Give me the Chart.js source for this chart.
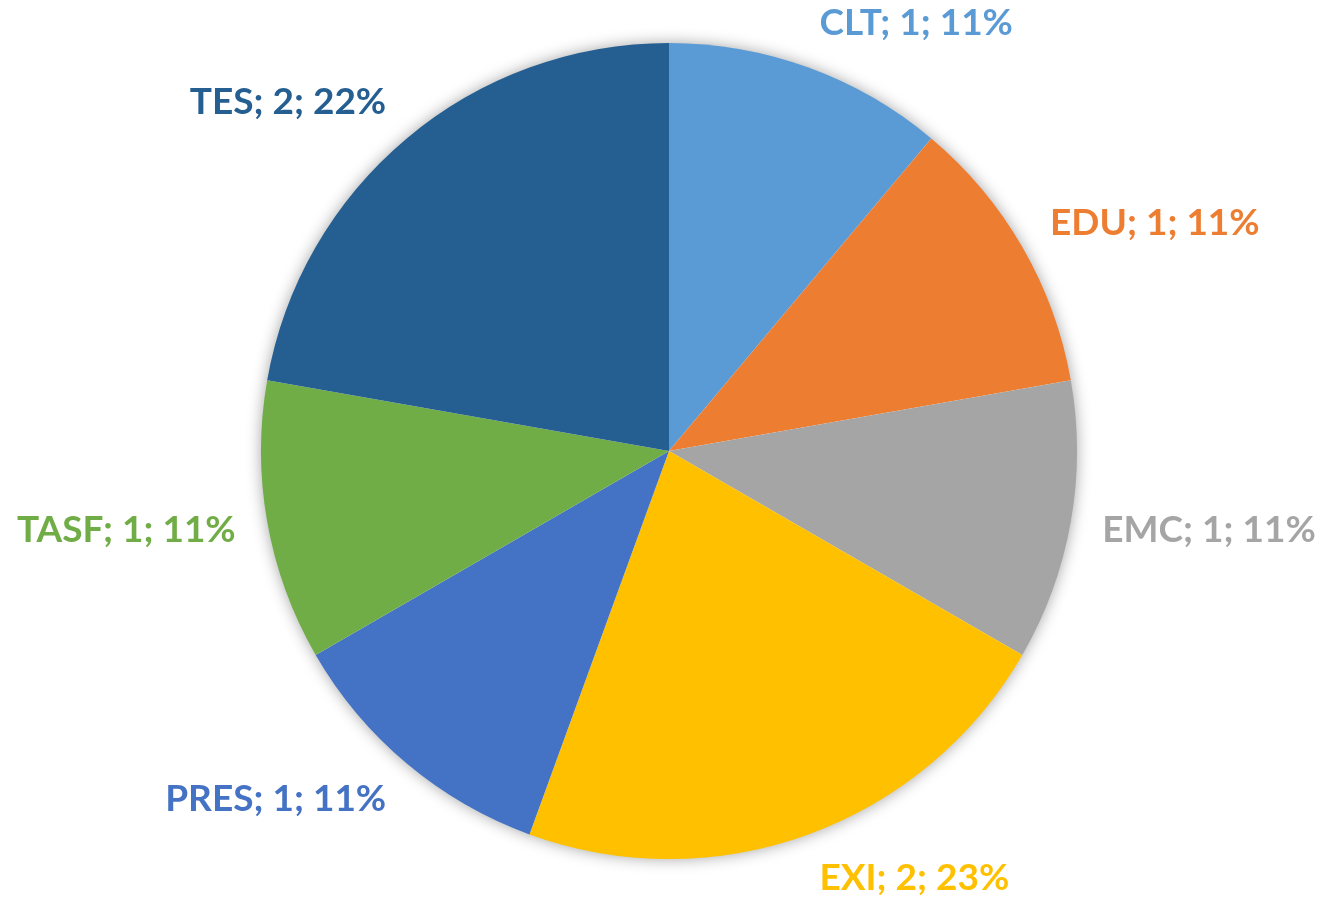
<!DOCTYPE html>
<html lang="en">
<head>
  <meta charset="UTF-8" />
  <title>Pie</title>
  <script src="https://cdn.jsdelivr.net/npm/chart.js"></script>
  <style>
    html, body { margin: 0; padding: 0; background: #fff; }
    .chart-container { position: relative; width: 1327px; height: 904px; }
  </style>
</head>
<body>
<div class="chart-container">
  <canvas id="pieChart"></canvas>
</div>
<script>
  // data
  const categories = ['CLT', 'EDU', 'EMC', 'EXI', 'PRES', 'TASF', 'TES'];
  const counts = [1, 1, 1, 2, 1, 1, 2];
  const percents = ['11%', '11%', '11%', '23%', '11%', '11%', '22%'];
  const colors = ['#5B9BD5', '#ED7D31', '#A5A5A5', '#FFC000', '#4472C4', '#70AD47', '#255E91'];

  // soft shadow behind the whole pie (drawn once, under the slices)
  const shadowPlugin = {
    id: 'shadow',
    beforeDatasetsDraw(chart) {
      const arc = chart.getDatasetMeta(0).data[0];
      if (!arc) return;
      const p = arc.getProps(['x', 'y', 'outerRadius'], true);
      const ctx = chart.ctx;
      ctx.save();
      ctx.shadowColor = 'rgba(0,0,0,0.4)';
      ctx.shadowBlur = 16;
      ctx.fillStyle = '#ffffff';
      ctx.beginPath();
      ctx.arc(p.x, p.y, p.outerRadius - 1, 0, Math.PI * 2);
      ctx.fill();
      ctx.restore();
    }
  };

  // outside labels "NAME; value; pct"
  const labelPlugin = {
    id: 'outLabels',
    afterDatasetsDraw(chart) {
      const ctx = chart.ctx;
      const meta = chart.getDatasetMeta(0);
      const h = 30;
      ctx.save();
      ctx.font = 'bold 37px Lato';
      ctx.textBaseline = 'middle';
      meta.data.forEach((arc, i) => {
        const p = arc.getProps(['x', 'y', 'startAngle', 'endAngle', 'outerRadius'], true);
        const mid = (p.startAngle + p.endAngle) / 2;
        const dx = Math.cos(mid), dy = Math.sin(mid);
        const r = p.outerRadius + 32;
        const x = p.x + dx * r;
        const y = p.y + dy * r + dy * h / 2;
        ctx.textAlign = dx >= 0 ? 'left' : 'right';
        ctx.fillStyle = colors[i];
        ctx.fillText(categories[i] + '; ' + counts[i] + '; ' + percents[i], x, y);
      });
      ctx.restore();
    }
  };

  new Chart(document.getElementById('pieChart'), {
    type: 'pie',
    data: {
      labels: categories,
      datasets: [{
        data: counts,
        backgroundColor: colors,
        borderWidth: 0
      }]
    },
    options: {
      responsive: true,
      maintainAspectRatio: false,
      animation: false,
      layout: { padding: { top: 43, bottom: 45, left: 11, right: 0 } },
      plugins: {
        legend: { display: false },
        tooltip: { enabled: false }
      }
    },
    plugins: [shadowPlugin, labelPlugin]
  });
</script>
</body>
</html>
